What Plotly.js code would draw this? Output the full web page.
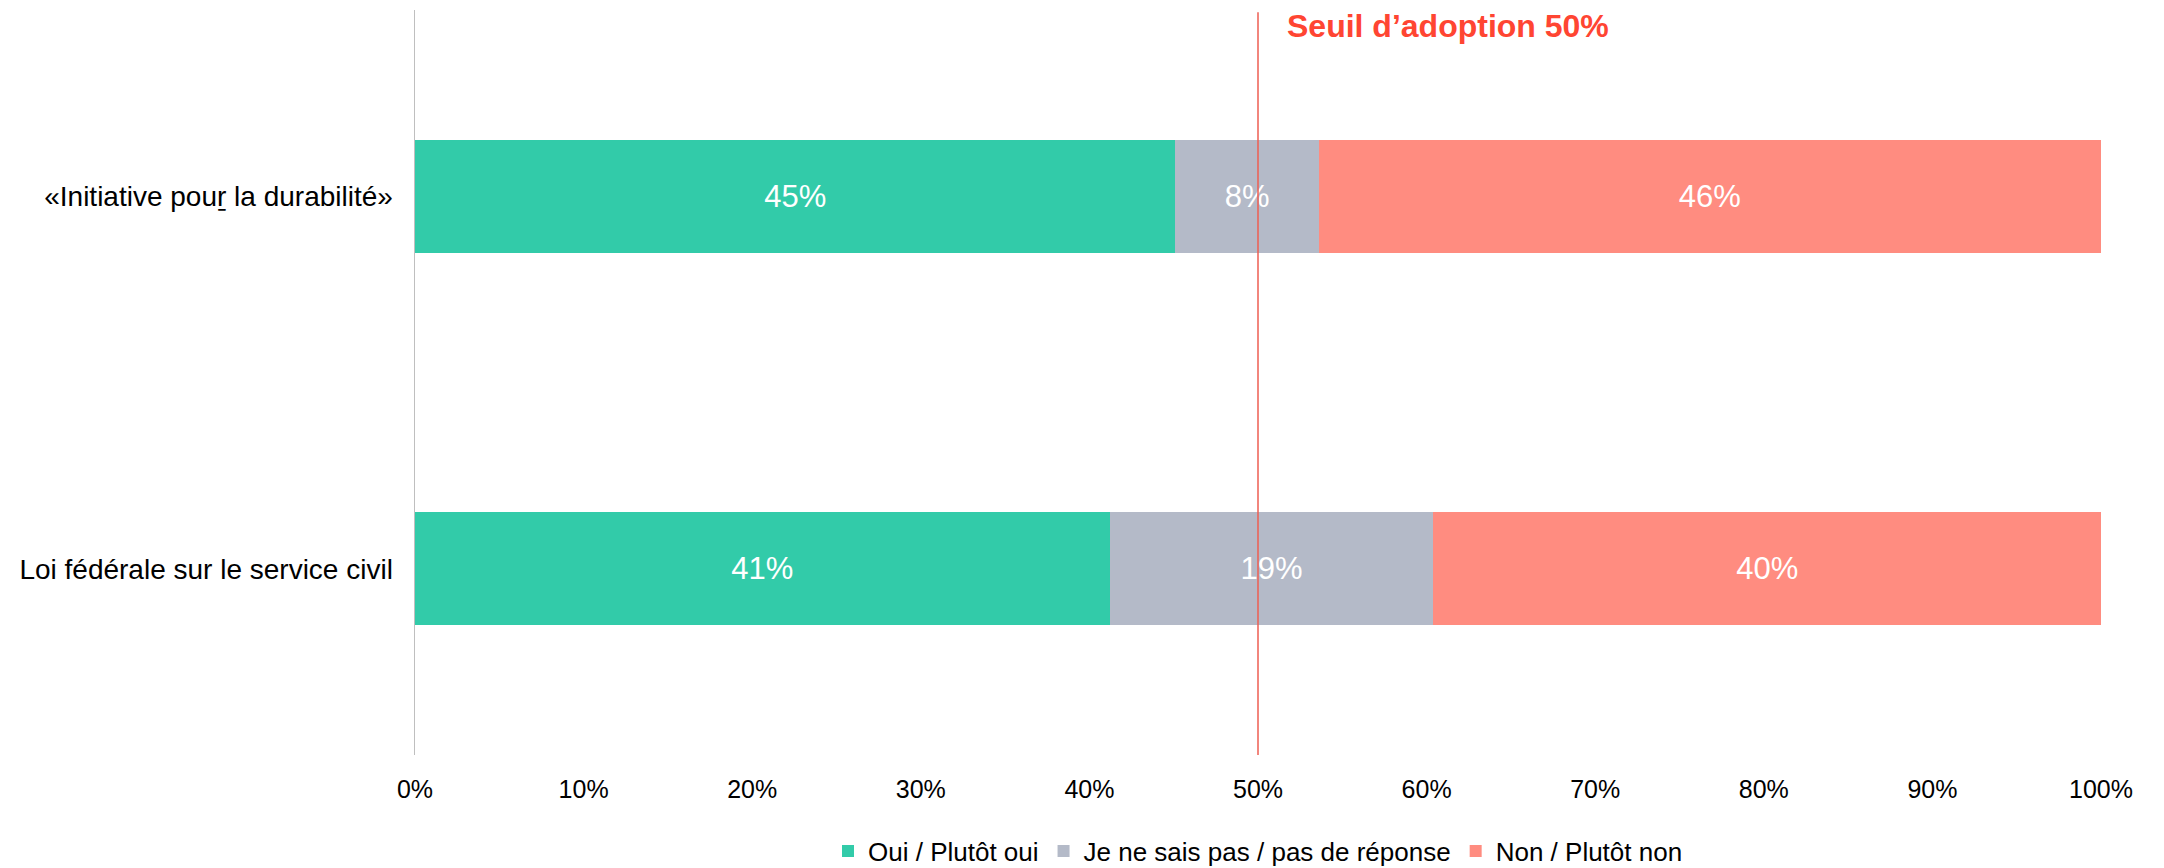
<!DOCTYPE html>
<html>
<head>
<meta charset="utf-8">
<script src="https://cdn.plot.ly/plotly-3.0.1.min.js"></script>
<style>
  html, body { margin: 0; padding: 0; background: #ffffff; }
  #chart { width: 2164px; height: 868px; }
</style>
</head>
<body>
<div id="chart"></div>
<script>
// ---- Data ----
const categories = ["«Initiative pou\u0072\u0331 la durabilité»", "Loi fédérale sur le service civil"];
const seriesNames = ["Oui / Plutôt oui", "Je ne sais pas / pas de réponse", "Non / Plutôt non"];
const ouiValues = [45.1, 41.2];
const nspValues = [8.5, 19.2];
const nonValues = [46.4, 39.6];
const ouiLabels = ["45%", "41%"];
const nspLabels = ["8%", "19%"];
const nonLabels = ["46%", "40%"];
const xTickValues = [0, 10, 20, 30, 40, 50, 60, 70, 80, 90, 100];
const xTickLabels = ["0%", "10%", "20%", "30%", "40%", "50%", "60%", "70%", "80%", "90%", "100%"];
const thresholdValue = 50;
const thresholdText = "Seuil d’adoption 50%";

// ---- Styling ----
const FONT = "Arial, 'Liberation Sans', sans-serif";
const colors = ["#32CBA9", "#B4BAC8", "#FF8C80"];

function barTrace(name, values, labels, color) {
  return {
    type: "bar",
    orientation: "h",
    name: name,
    y: categories,
    x: values,
    text: labels,
    textposition: "inside",
    insidetextanchor: "middle",
    textangle: 0,
    textfont: { family: FONT, size: 31, color: "#ffffff" },
    marker: { color: color, line: { width: 0 } },
    hoverinfo: "skip",
    cliponaxis: false
  };
}

const data = [
  barTrace(seriesNames[0], ouiValues, ouiLabels, colors[0]),
  barTrace(seriesNames[1], nspValues, nspLabels, colors[1]),
  barTrace(seriesNames[2], nonValues, nonLabels, colors[2])
];

const layout = {
  width: 2164,
  height: 868,
  margin: { l: 415, r: 63, t: 10, b: 113, pad: 0, autoexpand: false },
  paper_bgcolor: "#ffffff",
  plot_bgcolor: "#ffffff",
  barmode: "stack",
  bargap: 0.697,
  font: { family: FONT, color: "#000000" },
  xaxis: {
    range: [0, 100],
    tickmode: "array",
    tickvals: xTickValues,
    ticktext: xTickLabels,
    showgrid: false,
    zeroline: false,
    showline: false,
    ticks: "",
    automargin: false,
    ticklabelstandoff: 17,
    tickfont: { family: FONT, size: 25, color: "#000000" },
    fixedrange: true
  },
  yaxis: {
    type: "category",
    autorange: "reversed",
    showgrid: false,
    zeroline: false,
    showline: true,
    linecolor: "#BFBFBF",
    linewidth: 1.5,
    ticks: "",
    automargin: false,
    ticklabelstandoff: 15,
    tickfont: { family: FONT, size: 28, color: "#000000" },
    fixedrange: true
  },
  shapes: [
    {
      type: "line",
      xref: "x", yref: "paper",
      x0: thresholdValue, x1: thresholdValue,
      y0: 0, y1: 0.997,
      line: { color: "#EE5E52", width: 1.5 },
      layer: "above"
    }
  ],
  annotations: [
    {
      text: "<b>" + thresholdText + "</b>",
      xref: "x", yref: "paper",
      x: thresholdValue, y: 1,
      xanchor: "left", yanchor: "middle",
      xshift: 27, yshift: -16,
      showarrow: false,
      font: { family: FONT, size: 32, color: "#FF4532" }
    }
  ],
  legend: {
    orientation: "h",
    x: 0.5, xanchor: "center",
    y: -0.129, yanchor: "middle",
    font: { family: FONT, size: 26, color: "#000000" },
    traceorder: "normal",
    itemclick: false,
    itemdoubleclick: false,
    bgcolor: "rgba(0,0,0,0)"
  },
  showlegend: true
};

Plotly.newPlot("chart", data, layout, { displayModeBar: false, staticPlot: true });
</script>
</body>
</html>
